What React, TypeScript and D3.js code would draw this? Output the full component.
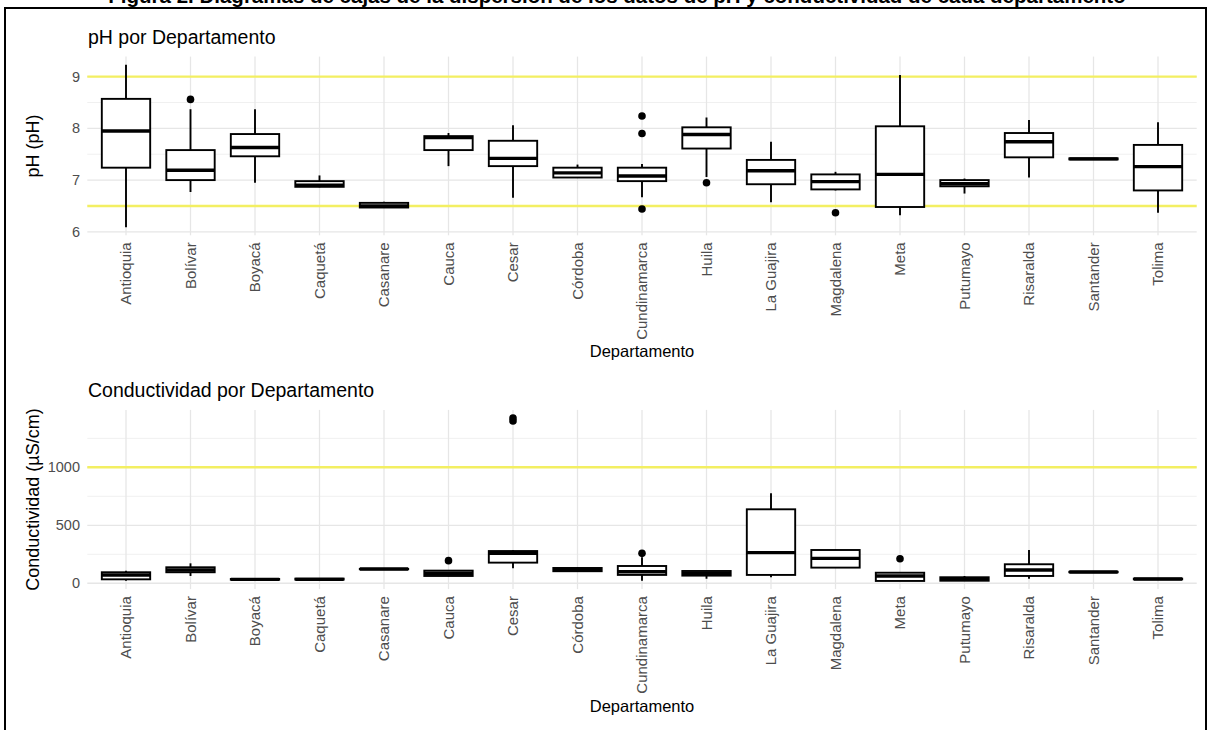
import React from "react";
import * as d3 from "d3";

const departamentos = [
  "Antioquia", "Bolívar", "Boyacá", "Caquetá", "Casanare", "Cauca", "Cesar",
  "Córdoba", "Cundinamarca", "Huila", "La Guajira", "Magdalena", "Meta",
  "Putumayo", "Risaralda", "Santander", "Tolima",
];

// pH box statistics per department
const phLow = [6.09, 6.77, 6.95, 6.86, 6.46, 7.27, 6.66, 7.04, 6.67, 7.06, 6.57, 6.80, 6.32, 6.74, 7.05, 7.41, 6.37];
const phQ1 = [7.24, 7.00, 7.46, 6.87, 6.47, 7.58, 7.27, 7.05, 6.98, 7.61, 6.92, 6.82, 6.48, 6.88, 7.44, 7.40, 6.80];
const phMed = [7.95, 7.19, 7.63, 6.90, 6.50, 7.82, 7.42, 7.14, 7.08, 7.88, 7.18, 6.97, 7.11, 6.93, 7.74, 7.41, 7.26];
const phQ3 = [8.57, 7.58, 7.89, 6.98, 6.56, 7.85, 7.76, 7.24, 7.24, 8.02, 7.39, 7.11, 8.04, 7.00, 7.91, 7.42, 7.68];
const phHigh = [9.23, 8.37, 8.37, 7.09, 6.58, 7.91, 8.06, 7.30, 7.31, 8.21, 7.74, 7.16, 9.03, 7.03, 8.16, 7.41, 8.12];
const phOutDept = ["Bolívar", "Cundinamarca", "Cundinamarca", "Cundinamarca", "Huila", "Magdalena"];
const phOutVal = [8.56, 8.24, 7.90, 6.44, 6.95, 6.37];
const phTicks = [6, 7, 8, 9];
const phMinor = [6.5, 7.5, 8.5];
const phRefs = [6.5, 9];

// Conductivity box statistics per department
const cLow = [22, 63, 30, 30, 120, 60, 129, 98, 22, 39, 52, 135, 20, 20, 39, 95, 33];
const cQ1 = [34, 95, 31, 32, 121, 63, 178, 104, 72, 66, 72, 135, 20, 22, 63, 95, 34];
const cMed = [72, 115, 34, 34, 123, 86, 258, 117, 100, 86, 264, 215, 63, 36, 115, 97, 37];
const cQ3 = [95, 138, 37, 40, 124, 109, 278, 132, 149, 106, 638, 287, 91, 52, 164, 99, 40];
const cHigh = [109, 172, 40, 44, 126, 112, 285, 140, 224, 108, 776, 290, 95, 63, 287, 99, 42];
const cOutDept = ["Cauca", "Cesar", "Cesar", "Cundinamarca", "Meta"];
const cOutVal = [195, 1400, 1425, 258, 212];
const cTicks = [0, 500, 1000];
const cMinor = [250, 750, 1250];
const cRefs = [1000];

const FONT = "'Liberation Sans', Arial, sans-serif";

type PanelProps = {
  title: string;
  yTitle: string;
  low: number[]; q1: number[]; med: number[]; q3: number[]; high: number[];
  outDept: string[]; outVal: number[];
  ticks: number[]; minor: number[]; refs: number[];
  top: number; bottom: number;
  titleY: number; xTitleY: number;
};

function Panel(p: PanelProps) {
  const left = 87.3, right = 1196.7;
  const x = d3.scalePoint<string>().domain(departamentos).range([left, right]).padding(0.6);
  const all = [...p.low, ...p.high, ...p.outVal];
  const mn = d3.min(all)!, mx = d3.max(all)!;
  const ex = (mx - mn) * 0.05;
  const y = d3.scaleLinear().domain([mn - ex, mx + ex]).range([p.bottom, p.top]);
  const bw = x.step() * 0.75;
  return (
    <g>
      <text x={88} y={p.titleY} fontSize={19.5} fontFamily={FONT} fill="#000">{p.title}</text>
      {p.minor.map((t) => (
        <line key={"mi" + t} x1={left} x2={right} y1={y(t)} y2={y(t)} stroke="#f0f0f0" strokeWidth={1} />
      ))}
      {p.ticks.map((t) => (
        <line key={"ma" + t} x1={left} x2={right} y1={y(t)} y2={y(t)} stroke="#e6e6e6" strokeWidth={1.3} />
      ))}
      {departamentos.map((d) => (
        <line key={"v" + d} x1={x(d)} x2={x(d)} y1={p.top} y2={p.bottom} stroke="#e6e6e6" strokeWidth={1.3} />
      ))}
      {p.refs.map((r) => (
        <line key={"r" + r} x1={left} x2={right} y1={y(r)} y2={y(r)} stroke="#f3ef62" strokeWidth={2.4} />
      ))}
      {departamentos.map((d, i) => {
        const cx = x(d)!;
        return (
          <g key={"b" + d}>
            <line x1={cx} x2={cx} y1={y(p.high[i])} y2={y(p.q3[i])} stroke="#000" strokeWidth={1.9} />
            <line x1={cx} x2={cx} y1={y(p.q1[i])} y2={y(p.low[i])} stroke="#000" strokeWidth={1.9} />
            <rect x={cx - bw / 2} y={y(p.q3[i])} width={bw} height={Math.max(0, y(p.q1[i]) - y(p.q3[i]))}
              fill="#fff" stroke="#000" strokeWidth={1.9} />
            <line x1={cx - bw / 2} x2={cx + bw / 2} y1={y(p.med[i])} y2={y(p.med[i])} stroke="#000" strokeWidth={3.4} />
          </g>
        );
      })}
      {p.outVal.map((v, i) => (
        <circle key={"o" + i} cx={x(p.outDept[i])} cy={y(v)} r={3.8} fill="#000" />
      ))}
      {p.ticks.map((t) => (
        <text key={"t" + t} x={80} y={y(t)} dy="0.35em" textAnchor="end" fontSize={14.5} fontFamily={FONT} fill="#4d4d4d">{t}</text>
      ))}
      {departamentos.map((d) => (
        <text key={"xl" + d} transform={`translate(${x(d)},${p.bottom + 7}) rotate(-90)`} dy="0.35em"
          textAnchor="end" fontSize={15} fontFamily={FONT} fill="#4d4d4d">{d}</text>
      ))}
      <text transform={`translate(${33},${(p.top + p.bottom) / 2}) rotate(-90)`} dy="0.35em" textAnchor="middle"
        fontSize={18} fontFamily={FONT} fill="#000">{p.yTitle}</text>
      <text x={(left + right) / 2} y={p.xTitleY} textAnchor="middle" fontSize={16.5} fontFamily={FONT} fill="#000">Departamento</text>
    </g>
  );
}

export default function App() {
  return (
    <svg width={1212} height={730} style={{ position: "absolute", left: 0, top: 0, background: "#fff" }}>
      <rect x={0} y={0} width={1212} height={730} fill="#fff" />
      <text x={617} y={2.5} textAnchor="middle" fontSize={20.5} fontWeight="bold" fontFamily={FONT} fill="#000">
        Figura 2. Diagramas de cajas de la dispersión de los datos de pH y conductividad de cada departamento
      </text>
      <rect x={5} y={8} width={1201} height={740} fill="none" stroke="#000" strokeWidth={2} />
      <Panel title="pH por Departamento" yTitle="pH (pH)" low={phLow} q1={phQ1} med={phMed} q3={phQ3} high={phHigh}
        outDept={phOutDept} outVal={phOutVal} ticks={phTicks} minor={phMinor} refs={phRefs}
        top={56.6} bottom={235.3} titleY={44} xTitleY={357} />
      <Panel title="Conductividad por Departamento" yTitle="Conductividad (µS/cm)" low={cLow} q1={cQ1} med={cMed} q3={cQ3} high={cHigh}
        outDept={cOutDept} outVal={cOutVal} ticks={cTicks} minor={cMinor} refs={cRefs}
        top={409.9} bottom={589.1} titleY={397} xTitleY={712} />
    </svg>
  );
}
